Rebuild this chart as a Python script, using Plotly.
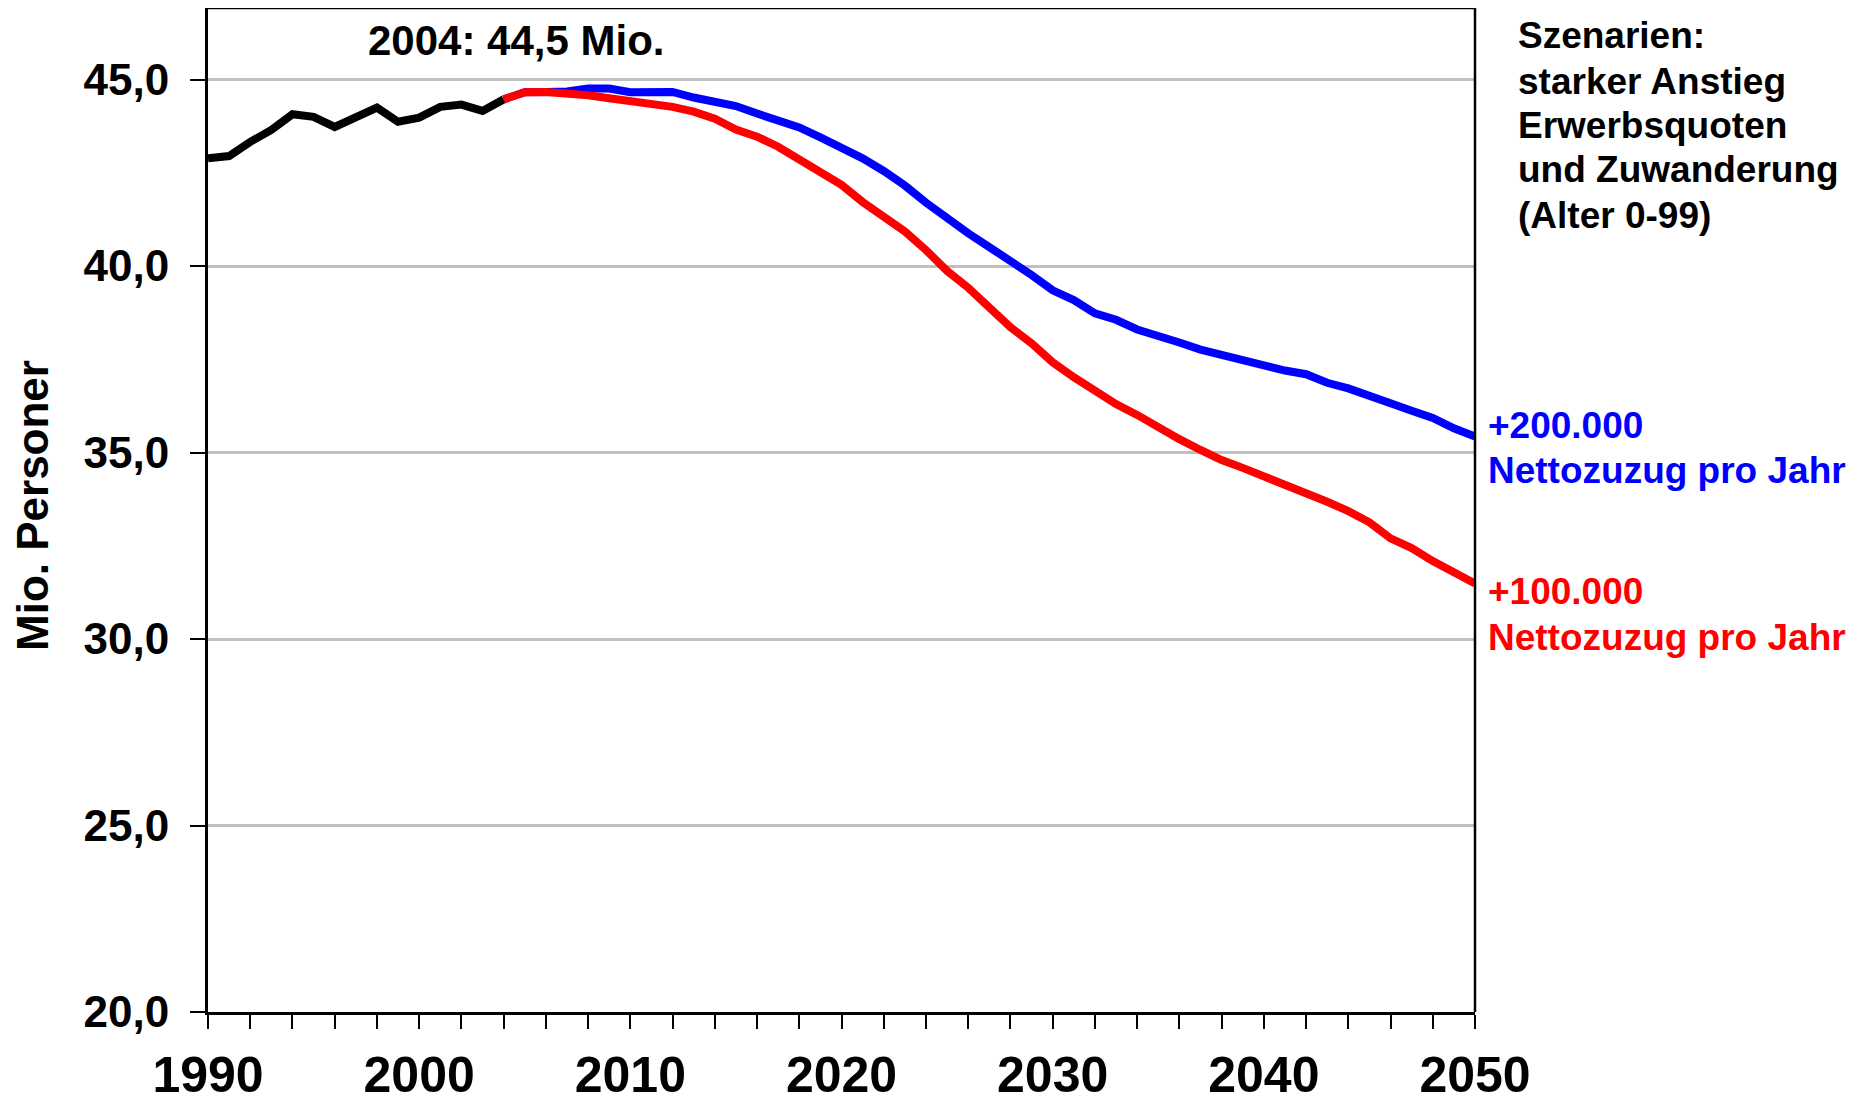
import plotly.graph_objects as go

# ---- data ----
years_hist = list(range(1990, 2005))
vals_hist = [42.89, 42.95, 43.33, 43.65, 44.07, 44.00, 43.73, 44.00, 44.25, 43.87,
             43.98, 44.27, 44.33, 44.16, 44.47]

years_proj = list(range(2004, 2051))
vals_200k = [44.47, 44.66, 44.67, 44.68, 44.76, 44.76, 44.66, 44.67, 44.67, 44.52,
             44.40, 44.29, 44.09, 43.90, 43.72, 43.45, 43.18, 42.89, 42.55, 42.16,
             41.70, 41.28, 40.88, 40.51, 40.16, 39.76, 39.35, 39.09, 38.73, 38.56,
             38.30, 38.10, 37.95, 37.76, 37.61, 37.46, 37.33, 37.20, 37.10, 36.87,
             36.72, 36.54, 36.32, 36.12, 35.93, 35.65, 35.43]
vals_100k = [44.47, 44.66, 44.67, 44.65, 44.58, 44.50, 44.43, 44.37, 44.27, 44.14,
             43.95, 43.66, 43.47, 43.20, 42.88, 42.56, 42.18, 41.72, 41.34, 40.93,
             40.43, 39.87, 39.42, 38.88, 38.36, 37.93, 37.42, 37.02, 36.63, 36.30,
             36.01, 35.66, 35.36, 35.07, 34.80, 34.59, 34.37, 34.17, 33.93, 33.68,
             33.43, 33.13, 32.70, 32.44, 32.09, 31.80, 31.49]

y_ticks = [20, 25, 30, 35, 40, 45]
x_ticks = [1990, 2000, 2010, 2020, 2030, 2040, 2050]

FONT = "Liberation Sans, Arial, sans-serif"
LW = 8

# page body has an 8px margin: figure is placed at (8, 8) in the window
W, H = 1859, 1095
PLOT_L, PLOT_R, PLOT_T, PLOT_B = 208, 1475, 8, 1012   # window pixels
ML, MR, MT, MB = PLOT_L - 8, W - (PLOT_R - 8), PLOT_T - 8, H - (PLOT_B - 8)

fig = go.Figure()
fig.add_trace(go.Scatter(x=years_hist, y=vals_hist, mode="lines",
                         line=dict(color="black", width=LW), showlegend=False))
fig.add_trace(go.Scatter(x=years_proj, y=vals_200k, mode="lines",
                         line=dict(color="#0000FF", width=LW), showlegend=False))
fig.add_trace(go.Scatter(x=years_proj, y=vals_100k, mode="lines",
                         line=dict(color="#FF0000", width=LW), showlegend=False))

fig.update_layout(
    width=W, height=H,
    margin=dict(l=ML, r=MR, t=MT, b=MB, autoexpand=False),
    paper_bgcolor="white", plot_bgcolor="white",
    separators=",.",
    font=dict(family=FONT, color="black"),
)

fig.update_xaxes(
    range=[1990, 2050], tickmode="array", tickvals=x_ticks, automargin=False,
    showgrid=False, zeroline=False,
    showline=True, linecolor="black", linewidth=3,
    ticks="outside", ticklen=14, tickwidth=2, tickcolor="black",
    minor=dict(dtick=2, tick0=1990, ticks="outside", ticklen=14, tickwidth=2,
               tickcolor="black", showgrid=False),
    tickfont=dict(family=FONT, size=50, weight="bold", color="black"),
    ticklabelstandoff=3,
)
fig.update_yaxes(
    range=[20, 46.92], tickmode="array", tickvals=y_ticks, tickformat=".1f",
    automargin=False,
    showgrid=True, gridcolor="#C0C0C0", gridwidth=2.5, zeroline=False,
    showline=True, linecolor="black", linewidth=3,
    ticks="outside", ticklen=15, tickwidth=2, tickcolor="black",
    tickfont=dict(family=FONT, size=44, weight="bold", color="black"),
    ticklabelstandoff=12,
)

# top and right frame
fig.add_shape(type="line", xref="paper", yref="paper", x0=0, x1=1, y0=1, y1=1,
              line=dict(color="black", width=2.5))
fig.add_shape(type="line", xref="paper", yref="paper", x0=1, x1=1, y0=0, y1=1,
              line=dict(color="black", width=2.5))

def ypaper(yfull):
    return (PLOT_B - yfull) / (PLOT_B - PLOT_T)

def xpaper(xfull):
    return (xfull - PLOT_L) / (PLOT_R - PLOT_L)

annos = []
annos.append(dict(text="<b>2004: 44,5 Mio.</b>", x=2004.6, y=46.05, xref="x", yref="y",
                  showarrow=False, xanchor="center", yanchor="middle",
                  font=dict(family=FONT, size=42, color="black")))
annos.append(dict(text="<b>Mio. Personer</b>", x=xpaper(32), y=ypaper(506), xref="paper",
                  yref="paper", showarrow=False, textangle=-90, xanchor="center",
                  yanchor="middle", font=dict(family=FONT, size=44, color="black")))
right_lines = ["Szenarien:", "starker Anstieg", "Erwerbsquoten", "und Zuwanderung",
               "(Alter 0-99)"]
right_y = [36, 81, 125, 170, 215.5]
for t, yy in zip(right_lines, right_y):
    annos.append(dict(text="<b>" + t + "</b>", x=xpaper(1516), y=ypaper(yy),
                      xref="paper", yref="paper", showarrow=False,
                      xanchor="left", yanchor="middle",
                      font=dict(family=FONT, size=37, color="black")))
for t, yy, col in [("+200.000", 426, "#0000FF"), ("Nettozuzug pro Jahr", 470, "#0000FF"),
                   ("+100.000", 592, "#FF0000"), ("Nettozuzug pro Jahr", 637, "#FF0000")]:
    annos.append(dict(text="<b>" + t + "</b>", x=xpaper(1486), y=ypaper(yy),
                      xref="paper", yref="paper", showarrow=False,
                      xanchor="left", yanchor="middle",
                      font=dict(family=FONT, size=37, color=col)))
fig.update_layout(annotations=annos)

fig.write_html("out.html")
